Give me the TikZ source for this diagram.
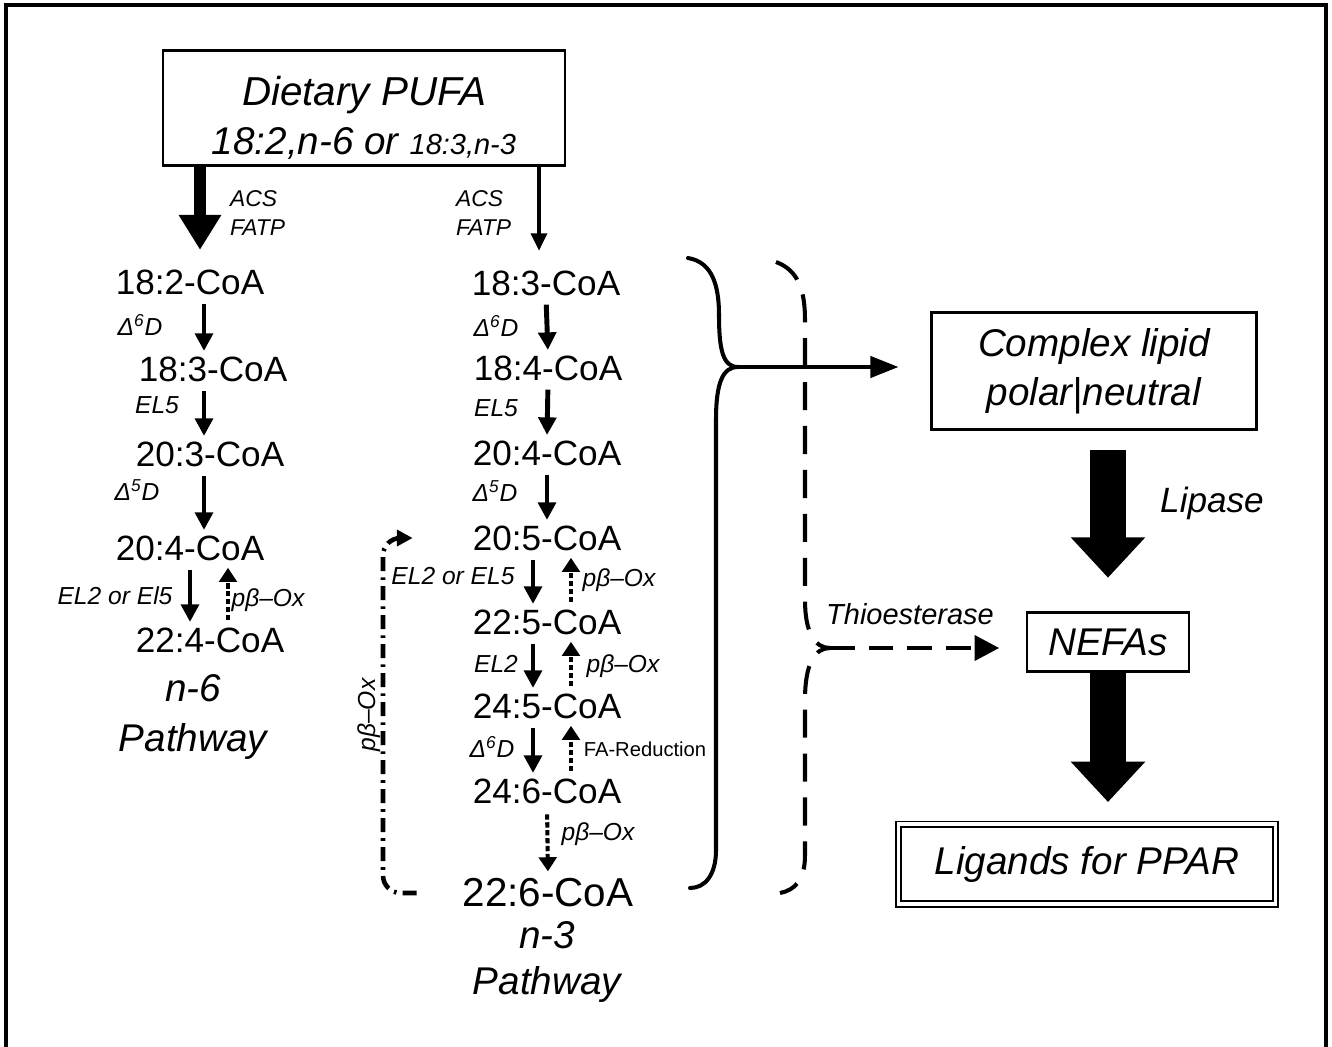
\documentclass[tikz,border=0pt]{standalone}
\usepackage{fontspec}
\setmainfont{Liberation Sans}
\usetikzlibrary{arrows.meta, positioning, calc}

\tikzset{
  cpd/.style={inner sep=1pt, font=\fontsize{20}{24}\selectfont},
  enz/.style={inner sep=1pt, font=\fontsize{14}{16}\selectfont\itshape},
  ttl/.style={inner sep=1pt, align=center, font=\fontsize{22}{26}\selectfont\itshape},
  box/.style={draw, line width=1.6pt, align=center, font=\fontsize{22}{28}\selectfont\itshape},
  fwd/.style={line width=2.8pt, -{Triangle[width=10pt,length=10pt]}, shorten <=4pt, shorten >=2pt},
  back/.style={line width=2.3pt, dash pattern=on 3pt off 1.5pt, -{Triangle[width=10pt,length=8pt]}, shorten <=3pt, shorten >=3pt},
  bigar/.style={line width=20pt, -{Triangle[width=41pt,length=23pt]}},
  brace/.style={line width=2.3pt, line cap=round},
}

\begin{document}
\begin{tikzpicture}[x=0.02cm, y=-0.02cm]
\useasboundingbox (0,0) rectangle (1332,1046);
% frame, open at the bottom
\draw[line width=2.3pt] (6,1050) -- (6,5) -- (1326,5) -- (1326,1050);

% source
\node[box, minimum width=8.04cm, minimum height=2.26cm, font=\fontsize{23}{26}\selectfont\itshape] (pufa) at (364,108)
  {\rule{0pt}{28pt}Dietary PUFA\\[2pt]{\fontsize{22}{26}\selectfont 18:2,n-6 or }{\fontsize{16.5}{20}\selectfont 18:3,n-3}};

% n-6 pathway
\node[cpd] (la) at (190,282) {18:2-CoA};
\node[cpd] (lb) at (213,369) {18:3-CoA};
\node[cpd] (lc) at (210,454) {20:3-CoA};
\node[cpd] (ld) at (190,548) {20:4-CoA};
\node[cpd] (le) at (210,640) {22:4-CoA};
\node[ttl] (lname) at (193,717) {n-6\\[2pt]Pathway};

% n-3 pathway
\node[cpd] (ma) at (546,283) {18:3-CoA};
\node[cpd] (mb) at (548,368) {18:4-CoA};
\node[cpd] (mc) at (547,453) {20:4-CoA};
\node[cpd] (md) at (547,538) {20:5-CoA};
\node[cpd] (me) at (547,622) {22:5-CoA};
\node[cpd] (mf) at (547,706) {24:5-CoA};
\node[cpd] (mg) at (547,791) {24:6-CoA};
\node[cpd, font=\fontsize{23}{26}\selectfont] (mh) at (548,893) {22:6-CoA};
\node[ttl] (mname) at (547,962) {n-3\\[0pt]Pathway};

% right side
\node[box, minimum width=6.5cm, minimum height=2.34cm] (lipid) at (1094,371) {Complex lipid\\polar|neutral};
\node[box, minimum width=3.24cm, minimum height=1.18cm] (nefa) at (1108,642) {NEFAs};
\node[box, double, double distance=2pt, line width=1pt, minimum width=7.55cm, minimum height=1.6cm] (ppar) at (1087,864) {Ligands for PPAR};

% uptake
\draw[line width=6.8pt, -{Triangle[width=23pt,length=20pt]}, shorten >=10pt] (pufa.south -| 200,0) -- (la.north -| 200,0);
\draw[line width=2.3pt, -{Triangle[width=9pt,length=10pt]}, shorten >=10pt] (pufa.south -| 539,0) -- (ma.north -| 539,0);
\node[enz, align=left, anchor=west, font=\fontsize{13}{16.5}\selectfont\itshape] at (228,213) {ACS\\FATP};
\node[enz, align=left, anchor=west, font=\fontsize{13}{16.5}\selectfont\itshape] at (454,213) {ACS\\FATP};

% n-6 steps
\draw[fwd] (la.south -| 204,0) -- (lb.north -| 204,0);
\draw[fwd] (lb.south -| 204,0) -- (lc.north -| 204,0);
\draw[fwd] (lc.south -| 204,0) -- (ld.north -| 204,0);
\draw[fwd] (ld.south -| 190,0) -- (le.north -| 190,0);
\draw[back] (le.north -| 228,0) -- (ld.south -| 228,0);
\node[enz] at (140,325) {Δ\textsuperscript{6}D};
\node[enz] at (157,405) {EL5};
\node[enz] at (137,490) {Δ\textsuperscript{5}D};
\node[enz] at (115,596) {EL2 or El5};
\node[enz] at (268,600) {pβ–Ox};

% n-3 steps
\draw[fwd] (ma.south) -- (mb.north);
\draw[fwd] (mb.south) -- (mc.north);
\draw[fwd] (mc.south) -- (md.north);
\draw[fwd] (md.south -| 533,0) -- (me.north -| 533,0);
\draw[fwd] (me.south -| 533,0) -- (mf.north -| 533,0);
\draw[fwd] (mf.south -| 533,0) -- (mg.north -| 533,0);
\draw[back] (me.north -| 571,0) -- (md.south -| 571,0);
\draw[back] (mf.north -| 571,0) -- (me.south -| 571,0);
\draw[back] (mg.north -| 571,0) -- (mf.south -| 571,0);
\draw[back, shorten <=5pt, shorten >=3pt] (mg.south) -- (mh.north);
\node[enz] at (496,326) {Δ\textsuperscript{6}D};
\node[enz] at (496,408) {EL5};
\node[enz] at (495,491) {Δ\textsuperscript{5}D};
\node[enz] at (453,576) {EL2 or EL5};
\node[enz] at (619,580) {pβ–Ox};
\node[enz] at (496,664) {EL2};
\node[enz] at (623,666) {pβ–Ox};
\node[enz] at (492,747) {Δ\textsuperscript{6}D};
\node[inner sep=1pt, font=\fontsize{11.5}{14}\selectfont] at (645,749) {FA-Reduction};
\node[enz] at (598,834) {pβ–Ox};

% retroconversion loop
\coordinate (loopx) at (383,715);
\draw[line width=2.6pt, dash pattern=on 8pt off 3.5pt on 1.5pt off 3.5pt, rounded corners=10pt,
  -{Triangle[width=9pt,length=9pt]}, shorten <=25pt, shorten >=33pt]
  (mh.west) -| (loopx) |- (md.west);
\node[enz, rotate=90, anchor=south] at (loopx) {pβ–Ox};

% solid brace to complex lipid
\coordinate (btip) at (738,367);
\draw[brace] (688,258) .. controls (712,262) and (719,285) .. (719,315)
  .. controls (719,350) and (723,367) .. (btip)
  .. controls (723,367) and (716,382) .. (716,420) -- (716,850)
  .. controls (716,875) and (705,888) .. (690,888);
\draw[line width=2.3pt, -{Triangle[width=12pt,length=16pt]}, shorten >=18pt] (btip) -- (btip -| lipid.west);

% dashed brace to NEFAs
\coordinate (dtip) at (830,648);
\draw[brace, line cap=butt, dash pattern=on 16pt off 9pt] (776,262) .. controls (798,270) and (805,290) .. (805,320) -- (805,600)
  .. controls (805,633) and (815,648) .. (dtip)
  .. controls (815,648) and (805,663) .. (805,700) -- (805,855)
  .. controls (805,880) and (795,890) .. (780,893);
\draw[line width=2.8pt, dash pattern=on 14pt off 8pt, -{Triangle[width=14pt,length=14pt]}, shorten >=15pt] (dtip) -- (dtip -| nefa.west);
\node[enz, font=\fontsize{16.5}{18}\selectfont\itshape] at (910,614) {Thioesterase};

% release
\draw[bigar, shorten <=11pt, shorten >=19pt] (lipid.south -| nefa) -- (nefa.north);
\node[enz, font=\fontsize{20}{24}\selectfont\itshape] at (1212,503) {Lipase};
\draw[bigar, shorten >=12pt] (nefa.south) -- (ppar.north -| nefa);
\end{tikzpicture}
\end{document}
